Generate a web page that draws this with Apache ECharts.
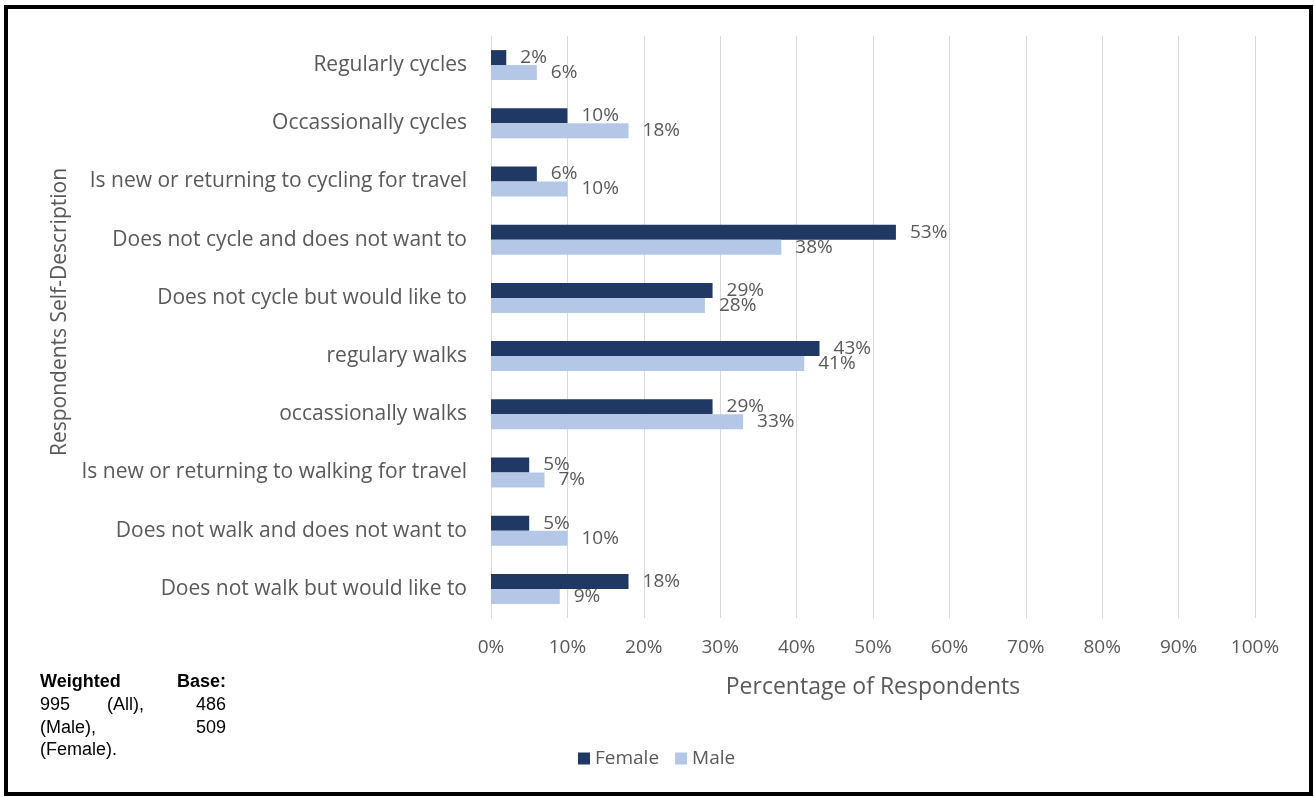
<!DOCTYPE html>
<html>
<head>
<meta charset="utf-8">
<script src="https://cdn.jsdelivr.net/npm/echarts@6/dist/echarts.min.js"></script>
<style>
  html, body { margin: 0; padding: 0; background: #fff; }
  #chart { width: 1314px; height: 797px; }
</style>
</head>
<body>
<div id="chart"></div>
<script>
// Self-described travel behaviour, by gender (percent of respondents)
const categories = [
  'Regularly cycles',
  'Occassionally cycles',
  'Is new or returning to cycling for travel',
  'Does not cycle and does not want to',
  'Does not cycle but would like to',
  'regulary walks',
  'occassionally walks',
  'Is new or returning to walking for travel',
  'Does not walk and does not want to',
  'Does not walk but would like to'
];
const femaleValues = [2, 10, 6, 53, 29, 43, 29, 5, 5, 18];
const maleValues = [6, 18, 10, 38, 28, 41, 33, 7, 10, 9];
const xTicks = [0, 10, 20, 30, 40, 50, 60, 70, 80, 90, 100];

const textGray = '#595959';
const baseFont = 'Open Sans';
const noteFont = '"Liberation Sans", Arial';

const chart = echarts.init(document.getElementById('chart'));

const pctLabel = {
  show: true,
  position: 'right',
  distance: 14,
  color: textGray,
  fontFamily: baseFont,
  fontSize: 19,
  formatter: p => p.value + '%'
};

// footnote: the weighted base, laid out as a justified block
function note(text, x, y, align, bold) {
  return {
    type: 'text',
    x: x,
    y: y,
    silent: true,
    style: {
      text: text,
      align: align,
      verticalAlign: 'middle',
      font: (bold ? 'bold ' : '') + '18px ' + noteFont,
      fill: '#000'
    }
  };
}

chart.setOption({
  animation: false,
  backgroundColor: '#fff',
  grid: { left: 491, top: 36, width: 764, height: 582, containLabel: false },
  xAxis: {
    type: 'value',
    min: xTicks[0],
    max: xTicks[xTicks.length - 1],
    interval: xTicks[1] - xTicks[0],
    name: 'Percentage of Respondents',
    nameLocation: 'middle',
    nameGap: 58,
    nameTextStyle: { color: textGray, fontFamily: baseFont, fontSize: 23 },
    axisLine: { show: false },
    axisTick: { show: false },
    axisLabel: { color: textGray, fontFamily: baseFont, fontSize: 19, margin: 20, formatter: v => v + '%' },
    splitLine: { show: true, lineStyle: { color: '#d9d9d9', width: 1 } }
  },
  yAxis: {
    type: 'category',
    data: categories,
    inverse: true,
    name: 'Respondents Self-Description',
    nameLocation: 'middle',
    nameGap: 420,
    nameRotate: 90,
    nameTextStyle: { color: textGray, fontFamily: baseFont, fontSize: 21, padding: [0, 0, 0, 30] },
    axisLine: { show: true, lineStyle: { color: '#d9d9d9', width: 1 } },
    axisTick: { show: false },
    axisLabel: { color: textGray, fontFamily: baseFont, fontSize: 21, margin: 24 },
    splitLine: { show: false }
  },
  legend: {
    data: ['Female', 'Male'],
    left: 573,
    top: 744,
    itemWidth: 12,
    itemHeight: 12,
    itemGap: 16,
    icon: 'rect',
    textStyle: { color: textGray, fontFamily: baseFont, fontSize: 19 }
  },
  series: [
    {
      name: 'Female',
      type: 'bar',
      data: femaleValues,
      barWidth: 15,
      barGap: '0%',
      itemStyle: { color: '#203864' },
      label: pctLabel
    },
    {
      name: 'Male',
      type: 'bar',
      data: maleValues,
      barWidth: 15,
      barGap: '0%',
      itemStyle: { color: '#b4c7e7' },
      label: pctLabel
    }
  ],
  graphic: [
    {
      type: 'rect',
      shape: { x: 6, y: 7, width: 1305, height: 787 },
      style: { fill: 'none', stroke: '#000', lineWidth: 4 },
      silent: true
    },
    note('Weighted', 40, 682, 'left', true),
    note('Base:', 226, 682, 'right', true),
    note('995', 40, 705, 'left'),
    note('(All),', 107, 705, 'left'),
    note('486', 226, 705, 'right'),
    note('(Male),', 40, 728, 'left'),
    note('509', 226, 728, 'right'),
    note('(Female).', 40, 750, 'left')
  ]
});
</script>
</body>
</html>
